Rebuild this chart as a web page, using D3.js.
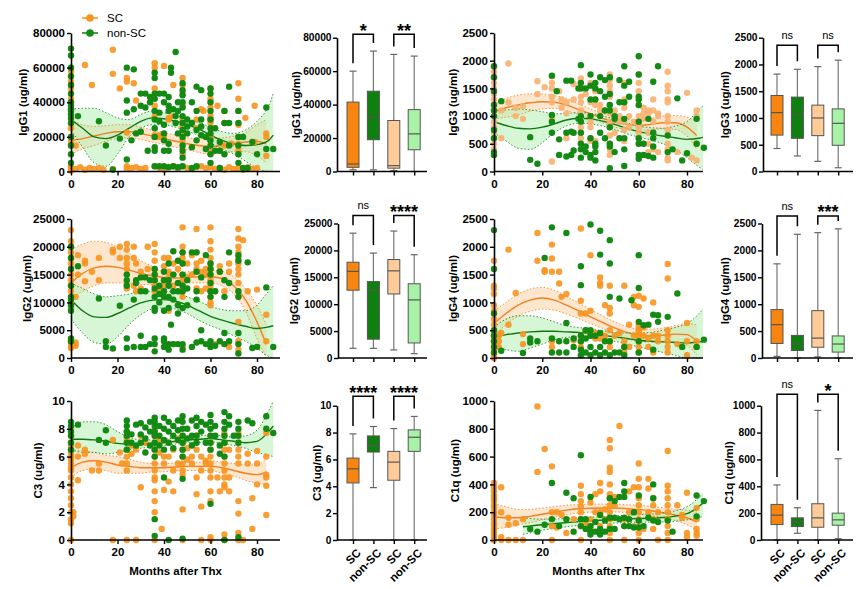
<!DOCTYPE html>
<html><head><meta charset="utf-8">
<script src="https://cdn.jsdelivr.net/npm/d3@7"></script>
<style>body{margin:0;background:#fff} svg{display:block} text{font-family:"Liberation Sans",Arial,sans-serif}</style>
</head><body><svg id="c" width="863" height="589"></svg>
<script>
// ---------------- DATA ----------------
const groups = ["SC", "non-SC", "SC", "non-SC"];
const seriesNames = ["SC", "non-SC"];
const xTicks = [0, 20, 40, 60, 80];

// scatter points: "month:value,value;..."
const igg1_sc = "0:60000,58000,52000,50000,48000,42000,40000,30000,28000,25000,20000,17000,15000,3000,2000,1000,500;2:15000,1500;4:2500;6:61500,1000;8:2000;9:50000;10:1500;12:2000;14:1000;18:70300,56400,1500;21:48000;24:54000,52000,22500,3000,1500;26:2000;27:51000;28:41000,2500;30:1500;32:2000;36:62500,60000,48000,38000,32000,21000,20000,3000;38:21000,20000,2000;40:61000,20500,1000;42:31000,30000,2500;44:50000,32000,3000;46:1500;48:54000,50000,45000,38000,30000,26000,22000,18000,10000,3000;50:2000;52:1500;54:30000,25000,2500;56:36000,3000;57:35000;58:2000;60:48000,42000,37000,32000,30000,28000,20000,12000,2500;62:1500;63:38000;64:2000;66:35000,28000,15000,1000;68:2500;69:16000;70:1500;72:51000,42000,35000,27000,20000,16000,12000,2000;74:1000;75:31000;76:2500;78:1500;79:38000,17000;80:2000;84:22000,20000,9000";
const igg1_nsc = "0:71000,67000,60000,55000,50000,45000,40000,38000,36000,35000,33000,31000,28000,20000,15000,10000,5000;3:32000;12:29000;15:15000;18:1000;21:19000;24:60000,41000,34000,7000;26:18000;27:59000,36000;28:22000;30:45000,38000,23000;32:37000,45000;33:12000;34:43000,40000;36:57000,54000,45000,42000,35000,30000,25000,20000,14000,12000,3000;38:45000,34000,29000,3000;40:45000,40000,27000,22000,18000,12000,3000;42:43000,38000,35000,16000,12000,2500;43:60000,57000;44:36000,3000;45:69000,32000,28000;46:40000,35000,22000,2500;48:51000,47000,44000,40000,37000,32000,28000,24000,20000,15000,12000,8000,3000;50:30000,26000,22000;52:40000,28000,14000,2000;54:49000,35000,24000,18000,3000;56:47000,30000,26000,21000;58:20000,13000;60:48000,45000,40000,35000,30000,25000,22000,18000,15000,10000,5000;62:25000,12000;64:17000,12000,2000;66:35000,28000,10000;68:49000,28000,15000;72:35000,28000,20000,15000,10000,5000;74:20000,2000;76:2000;78:17000;80:10000;84:37000,13000;87:13000";
const igg3_sc = "0:1900,1800,1700,1600,1500,1400,1300,1200,1100,1000,900,800,700,600,500,400,300;3:1100,600;6:1950,1250;9:1150,1000;12:1180,950;18:1630,1400;21:1520;24:1720,1600,1500,1350,1250,1000,950,180;27:1450;28:1300,1150;30:1250,1050,600;33:1580,1300;36:1680,1580,1500,1350,1250,1100,950,800,700,600,500;38:1400;40:1600,1250,900,800,600,550;42:1450,1300,1200,550;44:1200,1100;46:1100;48:1750,1650,1550,1450,1350,1200,1050,900,800,650,500,400,300;50:1100,700;52:1000,900;54:1600,1300,1150,900,750,550;56:1000,800;58:900;60:1750,1600,1450,1200,1000,850,800,700,600,500;62:1150,1050,950;64:1100,1050,700,500,350;66:1300,1100,900,700,400;68:1050,1000,350;72:1800,1550,1450,1300,1250,1000,900,750,500,400,250,200;76:350;80:1420;82:250;84:1100,1000,500,200";
const igg3_nsc = "0:1900,1700,1450,1200,1100,1000,750,600,350,300;3:1270;15:620,210;18:140;24:1730,1020,900,700;26:1450;27:580,300;30:1640,700,270;32:1640,720,300;33:700,380;35:1500,950;36:1920,1600,1500,1000,900,700,500,400,250;38:1500,450,350;40:1750,1550,1300,1000,600,300,250;42:1600,1500,1300,500,450,350,200;44:1700,1450,1000,700;46:1650,1350,1100,600;48:1700,1400,1200,1100,800,500,450,60;50:1000,950,350;52:1650,1250,600;54:1900,1550,1250,950,600,400,100;56:1620,1350;60:2080,1750,1350,1300,1200,900,600,500,300,230;62:500,300;64:950,280;66:1620,700,600,450,250;68:1900;72:650,350;74:400;76:1320;78:200;80:330;84:950,500;87:430";
const igg2_sc = "0:23000,21000,20000,19000,18000,17000,16000,15000,14000,13000,12000,11000,10000,9000,3000,2500,2000,1800;2:11000,2800,2200;3:18500,15000;6:17500,17000,13800;9:15500;12:18000,14000;18:19500,19000;21:20000,18000;24:20500,19500,18000,17000,16000,15000,13000,12500;27:20000,18000,13000;28:17000,12000;30:15500,12500;33:20000,16000;36:20500,19000,17500,16000,15000,14000,13000,12000;38:12500;40:18000,16500,13000,12000,11000;42:18000,15500,14500,8500;44:17000,15000,13000,2500;46:16000;48:23500,20000,19000,18000,17000,15000,14000,13000,12000,11000,2000;50:17000,14500;52:18500,15000;54:23200,19000,17000,16000,12500;56:17500,15500,12000;58:16000,15000,12500;60:23500,21000,19500,18000,17000,16000,15000,14000,13000,12000,11000,10000,9500;62:12000,2500;64:16500,15500;66:14000,12000,2500;68:17000,15500,2000;72:23200,21500,20000,19000,18000,17000,16000,15000,13500,11000,6500,3000,1500;74:21200;76:12000;80:12300,2000;84:7800,3000";
const igg2_nsc = "0:20000,18000,16000,13000,11000,10500,9500,8500,3500,3000;3:16500;12:10700;15:3000,2000;18:1700;21:9400;24:15000,14000,13000,3500,1800;27:10500,2000;28:14000,13500;30:14500,12000,4000,2000;32:14500,12000,2000;34:14000,2500;36:16000,15000,14000,12500,11000,9000,8500,3500,2500,1200;38:13000,11500,10000;40:15500,14000,12000,11000,8500,3500,3000,2000;42:17000,14000,13000,11000,9000,2500,1500;43:6000;44:19200,15000,12000,10500,2500;46:17500,13500,12000,9500,8000,2500;48:19000,17000,15000,13000,12000,9000,2500,1500;50:14000,12500,9500;52:19000,2000;54:19000,15500,12000,10500,2800;56:14500,5000,3000;58:18500,2500;60:17000,16000,15000,13500,12000,11000,3000,2000;62:12000,2200;64:15500,3000;66:14000,11000,4500,2500;68:19000,13500,3000;72:18500,17500,12000,11000,4500,2500,800;76:17200;78:1800;80:2000;84:12700;87:2000";
const igg4_sc = "0:1750,1300,1250,1150,950,850,700,600,500,450,400,350,300,250,200,150,100,50,0;2:400,300,200;3:450;6:1950,600;9:1170;12:430,250;18:2250,1750;21:1580,1550;24:2040,1790,1550,300,200;27:1550,1340;28:1100;30:1150;33:320;36:2330,1030,800,400,300,200;38:800,500;40:1850,850,450,400;42:450,350;44:1450,1350,1300,350;46:950,400;48:1300,900,800,500,300,200;50:400;52:450;54:1300,300,200,100;56:600,200;58:1100,950,400;60:1120,920,600,550,500,450,400,300,200,100;62:1070,550,400;64:350,200;66:1000,400,100;68:400,300;72:1690,1430,500,400,300,200,100;76:250;80:630,300,50;84:300,200";
const igg4_nsc = "0:2300,1600,800,500,400,300,200,100;3:130;12:90;15:350,280;18:300;21:1800;24:2350,350,100;27:300,100;30:2250,630,300,100;33:350,200;36:1650,1310,400,300,150,50;38:500,350,100;40:2400,500,400,200,50;42:400,100;44:2290,1860,450,200,50;46:300,100;48:2120,1700,1100,300,50;50:100;52:1070,100;54:200,50;57:1040;60:1850,1260,650,300,100;62:590;64:600;66:780,150;68:770,650;72:740;76:1160;78:200;84:200;87:330";
const c3_sc = "0:8,7.5,7,6.8,6.5,6.2,6,5.8,5.5,5.2,5,4.5,4,3.5,3,2.5,2,1.5,1.2,0;1:2,1.7;3:6.8,6,4.3;6:6.5,6.2;9:5;12:5.5,5;18:7.2,0;21:6.3;22:5.5;24:7.8,7.3,7,6.5,6,5.5,5,0;26:6.8,6.2;28:6.5,0;30:7.5,3.8;32:7;36:7.9,7.5,7,6.5,6,5.5,5,4.5,4.3,3.5,2.8,2,0;38:7.2,6.3;39:0.8;40:6,5.5,3.6;42:7,6,4.2;44:6.5,5,3.5;46:7.3,5.5;48:7.5,7,6.5,6,5.5,5,4.7,2.2,0;50:6.6,5.8;52:6,5.5;54:7.5,6.5,4.5,3.3;56:6,5,2.4,0;58:5.7,5.5;60:7.5,7,6.5,6,5.5,5,4.5,3.5,2.8,0.2,0;63:4.5;64:3.5;66:7.7,7,6.5,6,5.5,5,4.5,4,3.8,0.4,0;68:6.5,4.5,3.5;72:7.7,7,6.5,6,5.5,2.8,1.9,0.5,0;74:0;76:6.2,5.5;78:3,0.8;80:6.4,5.5,4;84:7.7,6,4.7,4.5,3.9,1.8";
const c3_nsc = "0:8.5,8.2,7.8,7.5,7,6.5;3:8.3;12:7.2;15:7.9,7;24:8.6,8.2,7.8,7.5,7,6.5;26:7.6,7;28:8.3,6.8;30:8.4,7.6,7;32:8.1,7.3,6.3;34:8.5,7.8,6.8;36:8.8,8.5,8.2,7.8,7.5,7,6.5,6,1.5,0.3;38:8.2,7.5,6.8;40:8.8,8,7.2,6.5,4.5;42:8.5,7.8,7,0;44:8.2,7.5,6.6;46:8.6,7.9,7.2;48:8.9,8.5,8,7.5,7,6.5,6,4.4,0.1;50:8,7.3;52:8.6,7.5,6.8;54:8.8,8.2,7.5,7;56:8.5,7.8;58:8.3,7;60:9,8.5,8,7.5,7,6.5,2.6;62:8.2,7.5;64:6.8,6.2;66:9.2,8.5,8,7.5,7,6,0;68:8.9,8.3;70:7.5;72:8.5,8,7.5,7,0.2;76:8.6;78:8.4;84:8.9,8;87:7.7";
const c1q_sc = "0:410,380,350,320,300,280,250,230,200,180,150,120,100,80,60,40,20,0;3:380,200,20,0;6:160,110,0;9:120,0;12:150,0;18:960,490;21:655;24:530,200,100,0;26:200,90;28:180;30:50;33:150;36:390,330,280,240,200,150,100,0;38:120;40:270,150,80;42:330,200;44:410,350,200,100;46:220,150;48:720,660,520,490,400,330,300,250,200,150,100,50,0;50:310,250;52:820;54:150,100,0;56:350,200;58:380,100;60:550,440,380,300,250,200,150,100,50,0;62:80;64:440,370,200;66:300,250,150,80;68:200,0;72:640,390,350,300,250,200,150,100,50,0;76:250;78:180,160;80:340,50,20;84:230,150,80,50,30";
const c1q_nsc = "15:80;18:60;21:110;24:410,150;27:100;30:340,150;33:300,60;36:610,150,100;38:150,80;40:310,100,60,40;42:130,60;44:180,80,40;46:140,60;48:300,160,80;50:280,160,80;52:310,150;54:410,350,310,160,100;56:150,100;58:200,90;60:320,140,90;62:100;64:160;66:400,300,140;68:130;72:140;74:60;84:320,170;87:280";

// smoothing fits: [month, fit, lower, upper]
const igg1_sc_fit = [[0,18000,10000,30000],[5,19000,13000,27000],[10,20500,15000,26000],[15,22000,17500,26500],[20,23000,19000,27000],[25,23000,19500,27000],[30,22000,18500,25500],[35,20500,17000,24000],[40,19000,15500,22500],[45,17500,14000,21000],[50,16000,12500,19500],[55,15000,11000,19000],[60,14500,10000,19000],[65,15000,10500,19500],[70,16000,11500,20500],[75,17000,11500,22500],[80,17500,9000,27000],[84,16000,5000,30000]];
const igg1_nsc_fit = [[0,30000,24000,36000],[5,25000,14000,36500],[10,20000,5000,36500],[15,19000,3000,34000],[20,21000,10000,31000],[25,25000,20000,30000],[30,29000,25000,33000],[35,31000,27000,35000],[40,30500,27000,34000],[45,29000,25500,32500],[50,27000,23500,30500],[55,24500,20500,28500],[60,21000,16500,25500],[65,18000,13000,23000],[70,16000,10000,22000],[75,15000,6000,24000],[80,15500,2000,29000],[85,18000,0,38000],[87,21000,0,45000]];
const igg3_sc_fit = [[0,1080,950,1220],[5,1150,980,1320],[10,1200,1020,1380],[15,1240,1090,1400],[20,1260,1130,1400],[25,1250,1140,1370],[30,1200,1100,1320],[35,1120,1030,1220],[40,1040,950,1130],[45,960,880,1050],[50,890,800,980],[55,850,760,940],[60,830,740,930],[65,850,750,960],[70,880,770,1000],[75,880,760,1010],[80,800,640,980],[84,650,400,900]];
const igg3_nsc_fit = [[0,900,700,1100],[5,830,550,1110],[10,780,420,1130],[15,770,400,1110],[20,800,520,1080],[25,860,700,1040],[30,930,820,1050],[35,960,870,1060],[40,950,860,1050],[45,910,820,1000],[50,850,760,950],[55,780,680,880],[60,720,620,820],[65,680,570,790],[70,640,500,780],[75,610,400,820],[80,580,250,900],[85,600,80,1120],[87,620,30,1200]];
const igg2_sc_fit = [[0,13500,10500,19500],[5,15200,12000,20500],[10,16200,13000,21000],[15,16500,13500,20800],[20,16300,13500,20000],[25,15800,13500,18800],[30,15200,13200,17500],[35,14800,13200,16500],[40,14500,13500,15500],[45,14400,13400,15400],[50,14500,13500,15500],[55,14600,13500,15700],[60,14600,13500,15800],[65,14300,13000,15600],[70,13000,11500,14600],[75,10500,8500,12500],[80,6500,3500,9500],[84,2500,0,6000]];
const igg2_nsc_fit = [[0,10500,7000,13500],[5,8500,4500,12500],[10,7400,2800,11500],[15,7300,2500,11000],[20,8000,3800,11200],[25,9000,6000,11500],[30,9900,7800,12000],[35,10400,8800,12000],[40,10500,9000,12000],[45,10200,8800,11700],[50,9500,8000,11000],[55,8500,6800,10200],[60,7500,5800,9300],[65,6800,5000,8700],[70,6200,4000,8500],[75,5700,3000,8500],[80,5300,1800,9500],[84,5500,500,11500],[87,5800,0,13000]];
const igg4_sc_fit = [[0,620,400,850],[5,800,600,1000],[10,950,750,1150],[15,1040,840,1240],[20,1080,880,1270],[25,1040,860,1220],[30,950,790,1110],[35,850,710,990],[40,740,620,870],[45,640,530,760],[50,540,430,650],[55,460,350,570],[60,410,300,520],[65,400,290,520],[70,410,290,540],[75,430,290,580],[80,420,230,620],[84,300,50,600]];
const igg4_nsc_fit = [[0,380,200,560],[5,420,150,700],[10,450,120,760],[15,470,180,760],[20,480,250,720],[25,480,330,650],[30,470,370,580],[35,460,380,550],[40,440,360,520],[45,410,330,490],[50,380,300,460],[55,350,250,450],[60,320,200,450],[65,300,150,460],[70,290,100,500],[75,280,50,550],[80,270,0,620],[85,290,0,800],[87,300,0,900]];
const c3_sc_fit = [[0,5.2,4.5,6.5],[5,5.6,5.0,6.4],[10,5.7,5.1,6.3],[15,5.6,5.0,6.1],[20,5.4,4.8,6.0],[25,5.3,4.8,5.8],[30,5.2,4.8,5.6],[35,5.2,4.9,5.5],[40,5.2,4.9,5.5],[45,5.25,5.0,5.55],[50,5.3,5.0,5.6],[55,5.3,5.0,5.6],[60,5.3,5.0,5.7],[65,5.2,4.8,5.6],[70,5.0,4.6,5.5],[75,4.8,4.3,5.4],[80,4.7,4.1,5.4],[84,4.9,4.0,5.9]];
const c3_nsc_fit = [[0,7.25,6.5,8.0],[5,7.25,6.3,8.5],[10,7.2,6.3,8.5],[15,7.1,6.2,8.3],[20,6.95,6.3,7.8],[25,6.9,6.5,7.4],[30,6.9,6.6,7.2],[35,6.95,6.7,7.2],[40,7.0,6.8,7.25],[45,7.1,6.9,7.35],[50,7.2,7.0,7.45],[55,7.25,7.0,7.5],[60,7.3,7.05,7.55],[65,7.2,6.95,7.5],[70,7.1,6.8,7.4],[75,7.0,6.6,7.5],[80,7.1,6.3,7.9],[85,7.8,6.1,9.3],[87,8.2,6.0,10]];
const c1q_sc_fit = [[0,165,80,260],[5,160,90,240],[10,160,110,220],[15,170,125,220],[20,185,145,230],[25,200,165,240],[30,215,180,250],[35,225,195,255],[40,228,200,258],[45,230,202,258],[50,230,202,258],[55,226,198,254],[60,220,190,250],[65,210,178,242],[70,195,160,232],[75,180,140,222],[80,160,110,215],[84,130,70,200]];
const c1q_nsc_fit = [[12,95,40,160],[20,110,70,150],[30,125,95,155],[40,138,112,164],[50,148,122,174],[60,155,128,182],[70,162,130,195],[80,190,145,240],[87,270,170,340]];

// box stats per group: [min, q1, median, q3, max]
const igg1_box = [[1000,2500,4500,41500,60000],[1000,19000,32500,48000,72000],[500,2000,3500,30500,70000],[0,13000,22500,37000,69000]];
const igg3_box = [[430,680,1100,1420,1820],[290,620,1060,1390,1910],[190,670,1000,1240,1960],[70,490,900,1170,2080]];
const igg2_box = [[1800,12600,16100,17800,23200],[1800,3500,12600,14200,19500],[1500,11900,16200,18300,23600],[800,2800,10800,13800,19200]];
const igg4_box = [[30,270,620,900,1750],[0,140,260,420,2300],[20,200,370,880,2330],[0,110,260,410,2400]];
const c3_box = [[0,4.25,5.3,6.1,7.9],[3.9,6.55,7.05,7.75,8.45],[0,4.45,5.8,6.6,8.3],[0,6.6,7.65,8.2,9.2]];
const c1q_box = [[0,115,185,265,410],[50,100,135,165,240],[0,95,165,270,965],[10,110,150,200,605]];

// significance: [label pair1, label pair2] and bracket level (data units)
const igg1_sig = ["*", "**"],   igg1_sigLevel = 82000;
const igg3_sig = ["ns", "ns"],  igg3_sigLevel = 2360;
const igg2_sig = ["ns", "****"], igg2_sigLevel = 26500;
const igg4_sig = ["ns", "***"], igg4_sigLevel = 2640;
const c3_sig = ["****", "****"], c3_sigLevel = 10.7;
const c1q_sig = ["ns", "*"],    c1q_sigLevel = 1085;

// ---------------- DRAWING ----------------
const svg = d3.select("#c");
const COL = {
  sc: "#F7941E", scPale: "#F8B070", nsc: "#138A13",
  scBand: "#FCD2A6", nscBand: "#B4EFB4",
  scLine: "#F08020", nscLine: "#0E7A0E",
  box: ["#F7850F", "#0F800F", "#FFCB98", "#A8F2A8"]
};
const FONT = 11.5, BOXFONT = 10.2;

function parsePts(s) {
  return s.split(";").flatMap(g => {
    const [x, ys] = g.split(":");
    return ys.split(",").map(y => ({x: +x, y: +y}));
  });
}

let clipId = 0;
function yLabel(text, x, yc) {
  svg.append("text").attr("transform", `translate(${x},${yc}) rotate(-90)`)
    .attr("text-anchor", "middle").attr("dy", "0.35em")
    .attr("font-size", FONT).attr("font-weight", "bold").text(text);
}
function styleAxis(g, fs) {
  g.select(".domain").attr("stroke", "#000").attr("stroke-width", 1.6);
  g.selectAll(".tick line").attr("stroke", "#000").attr("stroke-width", 1.4);
  g.selectAll(".tick text").attr("font-size", fs || FONT).attr("font-weight", "bold")
    .attr("font-family", '"Liberation Sans",Arial,sans-serif').attr("fill", "#000");
}

function drawScatter(p) {
  const x = d3.scaleLinear().domain([0, 80]).range([p.x0, p.x80]);
  const y = d3.scaleLinear().domain([0, p.ymax]).range([p.yb, p.yt]);
  const xEnd = p.xEnd;
  const id = "clip" + (clipId++);
  svg.append("clipPath").attr("id", id).append("rect")
    .attr("x", p.x0).attr("y", p.yt - 2).attr("width", xEnd - p.x0).attr("height", p.yb - p.yt + 2);
  const g = svg.append("g");
  const gc = g.append("g").attr("clip-path", `url(#${id})`);
  const fits = [[p.scFit, COL.scBand, COL.scLine], [p.nscFit, COL.nscBand, COL.nscLine]];
  fits.forEach(([f, band]) => {
    gc.append("path").datum(f)
      .attr("d", d3.area().x(d => x(d[0])).y0(d => y(d[2])).y1(d => y(d[3])).curve(d3.curveMonotoneX))
      .attr("fill", band).attr("fill-opacity", 0.55);
  });
  // points
  g.append("g").selectAll("circle").data(parsePts(p.sc)).join("circle")
    .attr("cx", d => x(d.x)).attr("cy", d => y(d.y)).attr("r", 3.2).attr("fill", p.scColor || COL.sc).attr("fill-opacity", 0.9);
  g.append("g").selectAll("circle").data(parsePts(p.nsc)).join("circle")
    .attr("cx", d => x(d.x)).attr("cy", d => y(d.y)).attr("r", 3.2).attr("fill", COL.nsc);
  // band edges and fit lines
  fits.forEach(([f, band, line]) => {
    [2, 3].forEach(k => gc.append("path").datum(f)
      .attr("d", d3.line().x(d => x(d[0])).y(d => y(d[k])).curve(d3.curveMonotoneX))
      .attr("fill", "none").attr("stroke", line).attr("stroke-width", 1).attr("stroke-dasharray", "1.5,2").attr("opacity", 0.8));
    gc.append("path").datum(f)
      .attr("d", d3.line().x(d => x(d[0])).y(d => y(d[1])).curve(d3.curveMonotoneX))
      .attr("fill", "none").attr("stroke", line).attr("stroke-width", 1.4);
  });
  // axes
  const ax = g.append("g").attr("transform", `translate(0,${p.yb})`)
    .call(d3.axisBottom(x).tickValues(xTicks).tickSize(4).tickPadding(4).tickSizeOuter(0));
  ax.select(".domain").remove();
  styleAxis(ax);
  g.append("line").attr("x1", p.x0).attr("x2", xEnd).attr("y1", p.yb).attr("y2", p.yb).attr("stroke", "#000").attr("stroke-width", 1.6);
  const ay = g.append("g").attr("transform", `translate(${p.x0},0)`)
    .call(d3.axisLeft(y).tickValues(p.yticks).tickFormat(d3.format("d")).tickSize(4).tickPadding(2).tickSizeOuter(0));
  styleAxis(ay);
  yLabel(p.label, p.labelX, (p.yt + p.yb) / 2);
  if (p.xlabel) {
    svg.append("text").attr("x", (p.x0 + xEnd) / 2).attr("y", p.yb + 35).attr("text-anchor", "middle")
      .attr("font-size", FONT).attr("font-weight", "bold").text("Months after Thx");
  }
}

function drawBox(p) {
  const y = d3.scaleLinear().domain([0, p.ymax]).range([p.yb, p.yt]);
  const x = d3.scalePoint().domain(d3.range(4)).range([p.bx0, p.bx0 + 3 * 20.4]);
  const g = svg.append("g");
  const bw = 12, cw = 7;
  p.stats.forEach((s, i) => {
    const cx = x(i);
    const [mn, q1, md, q3, mx] = s;
    g.append("line").attr("x1", cx).attr("x2", cx).attr("y1", y(mx)).attr("y2", y(q3)).attr("stroke", "#777").attr("stroke-width", 1.2);
    g.append("line").attr("x1", cx).attr("x2", cx).attr("y1", y(q1)).attr("y2", y(mn)).attr("stroke", "#777").attr("stroke-width", 1.2);
    [mx, mn].forEach(v => g.append("line").attr("x1", cx - cw / 2).attr("x2", cx + cw / 2).attr("y1", y(v)).attr("y2", y(v)).attr("stroke", "#666").attr("stroke-width", 1.2));
    g.append("rect").attr("x", cx - bw / 2).attr("width", bw).attr("y", y(q3)).attr("height", y(q1) - y(q3))
      .attr("fill", COL.box[i]).attr("stroke", "#555").attr("stroke-width", 1);
    g.append("line").attr("x1", cx - bw / 2).attr("x2", cx + bw / 2).attr("y1", y(md)).attr("y2", y(md)).attr("stroke", "#555").attr("stroke-width", 1.2);
  });
  // significance brackets
  [[0, 1], [2, 3]].forEach(([a, b], k) => {
    const ly = y(p.sigLevel);
    const la = y(p.stats[a][4]) - 8, lb = y(p.stats[b][4]) - 8;
    g.append("path").attr("d", `M${x(a)},${Math.max(la, ly)}V${ly}H${x(b)}V${Math.max(lb, ly)}`)
      .attr("fill", "none").attr("stroke", "#000").attr("stroke-width", 1.5);
    const lab = p.sig[k];
    const isStar = lab !== "ns";
    g.append("text").attr("x", (x(a) + x(b)) / 2).attr("y", isStar ? ly + 2.5 : ly - 6)
      .attr("text-anchor", "middle").attr("font-size", isStar ? 18 : 11).attr("font-weight", isStar ? "bold" : "normal").text(lab);
  });
  const ax = g.append("g").attr("transform", `translate(0,${p.yb})`)
    .call(d3.axisBottom(x).tickSize(4).tickFormat("").tickSizeOuter(0));
  ax.select(".domain").remove();
  styleAxis(ax, BOXFONT);
  g.append("line").attr("x1", p.ax).attr("x2", p.axEnd).attr("y1", p.yb).attr("y2", p.yb).attr("stroke", "#000").attr("stroke-width", 1.6);
  const ay = g.append("g").attr("transform", `translate(${p.ax},0)`)
    .call(d3.axisLeft(y).tickValues(p.yticks).tickFormat(d3.format("d")).tickSize(4).tickPadding(1.5).tickSizeOuter(0));
  styleAxis(ay, BOXFONT);
  yLabel(p.label, p.labelX, (p.yt + p.yb) / 2);
  if (p.xlabels) {
    groups.forEach((t, i) => {
      g.append("text").attr("transform", `translate(${x(i) + 3},${p.yb + 8}) rotate(-45)`)
        .attr("text-anchor", "end").attr("dy", "0.7em").attr("font-size", FONT).attr("font-weight", "bold").text(t);
    });
  }
}

const L = {x0: 71, x80: 257, xEnd: 280};
const R = {x0: 494, x80: 687, xEnd: 703};
const rows = [{yt: 33, yb: 171.5}, {yt: 219, yb: 358}, {yt: 401, yb: 540}];
const brows = [{yt: 37.7, yb: 171.5}, {yt: 223.5, yb: 358}, {yt: 405.7, yb: 540}];

drawScatter({...L, ...rows[0], ymax: 80000, yticks: [0,20000,40000,60000,80000], label: "IgG1 (ug/ml)", labelX: 23, sc: igg1_sc, nsc: igg1_nsc, scFit: igg1_sc_fit, nscFit: igg1_nsc_fit});
drawScatter({...R, ...rows[0], ymax: 2500, yticks: [0,500,1000,1500,2000,2500], label: "IgG3 (ug/ml)", labelX: 453, sc: igg3_sc, nsc: igg3_nsc, scFit: igg3_sc_fit, nscFit: igg3_nsc_fit, scColor: COL.scPale});
drawScatter({...L, ...rows[1], ymax: 25000, yticks: [0,5000,10000,15000,20000,25000], label: "IgG2 (ug/ml)", labelX: 27, sc: igg2_sc, nsc: igg2_nsc, scFit: igg2_sc_fit, nscFit: igg2_nsc_fit});
drawScatter({...R, ...rows[1], ymax: 2500, yticks: [0,500,1000,1500,2000,2500], label: "IgG4 (ug/ml)", labelX: 453, sc: igg4_sc, nsc: igg4_nsc, scFit: igg4_sc_fit, nscFit: igg4_nsc_fit});
drawScatter({...L, ...rows[2], ymax: 10, yticks: [0,2,4,6,8,10], label: "C3 (ug/ml)", labelX: 38, sc: c3_sc, nsc: c3_nsc, scFit: c3_sc_fit, nscFit: c3_nsc_fit, xlabel: true});
drawScatter({...R, ...rows[2], ymax: 1000, yticks: [0,200,400,600,800,1000], label: "C1q (ug/ml)", labelX: 455, sc: c1q_sc, nsc: c1q_nsc, scFit: c1q_sc_fit, nscFit: c1q_nsc_fit, xlabel: true});

drawBox({...brows[0], ax: 337, axEnd: 427, bx0: 353, ymax: 80000, yticks: [0,20000,40000,60000,80000], label: "IgG1 (ug/ml)", labelX: 296, stats: igg1_box, sig: igg1_sig, sigLevel: igg1_sigLevel});
drawBox({...brows[0], ax: 763, axEnd: 853, bx0: 777, ymax: 2500, yticks: [0,500,1000,1500,2000,2500], label: "IgG3 (ug/ml)", labelX: 725, stats: igg3_box, sig: igg3_sig, sigLevel: igg3_sigLevel});
drawBox({...brows[1], ax: 338, axEnd: 427, bx0: 353, ymax: 25000, yticks: [0,5000,10000,15000,20000,25000], label: "IgG2 (ug/ml)", labelX: 294, stats: igg2_box, sig: igg2_sig, sigLevel: igg2_sigLevel});
drawBox({...brows[1], ax: 762, axEnd: 853, bx0: 777, ymax: 2500, yticks: [0,500,1000,1500,2000,2500], label: "IgG4 (ug/ml)", labelX: 725, stats: igg4_box, sig: igg4_sig, sigLevel: igg4_sigLevel});
drawBox({...brows[2], ax: 337, axEnd: 427, bx0: 353, ymax: 10, yticks: [0,2,4,6,8,10], label: "C3 (ug/ml)", labelX: 317, stats: c3_box, sig: c3_sig, sigLevel: c3_sigLevel, xlabels: true});
drawBox({...brows[2], ax: 761, axEnd: 853, bx0: 777, ymax: 1000, yticks: [0,200,400,600,800,1000], label: "C1q (ug/ml)", labelX: 729, stats: c1q_box, sig: c1q_sig, sigLevel: c1q_sigLevel, xlabels: true});

// legend
const leg = svg.append("g");
seriesNames.forEach((n, i) => {
  const yy = 18 + i * 15, c = i ? COL.nsc : COL.sc;
  leg.append("line").attr("x1", 82).attr("x2", 98).attr("y1", yy).attr("y2", yy).attr("stroke", c).attr("stroke-width", 1.6);
  leg.append("circle").attr("cx", 90).attr("cy", yy).attr("r", 3.8).attr("fill", c);
  leg.append("text").attr("x", 107).attr("y", yy).attr("dy", "0.35em").attr("font-size", FONT).text(n);
});
</script></body></html>
